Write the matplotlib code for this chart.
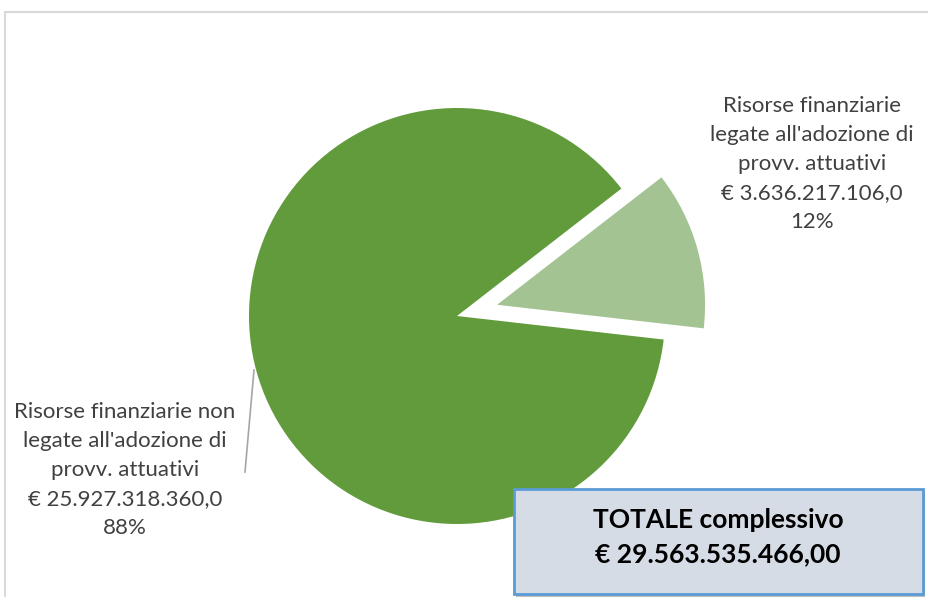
import matplotlib.pyplot as plt
from matplotlib.patches import Rectangle

plt.rcParams['font.family'] = ['Lato', 'DejaVu Sans']

categories = ["Risorse finanziarie\nlegate all'adozione di\nprovv. attuativi",
              "Risorse finanziarie non\nlegate all'adozione di\nprovv. attuativi"]
values = [3636217106.0, 25927318360.0]
colors = ['#A3C492', '#629B3C']
total_label = "TOTALE complessivo"


def euro(v, dec=1):
    s = f"{v:,.{dec}f}"
    return "€ " + s.replace(",", "X").replace(".", ",").replace("X", ".")


W, H = 929, 597
fig = plt.figure(figsize=(W / 100, H / 100), dpi=100)

# outer chart frame (cut at right/bottom like the screenshot)
fig.patches.append(Rectangle((5 / W, -0.1), 1.2, 1.1 - 12 / H, transform=fig.transFigure,
                             fill=False, edgecolor='#D9D9D9', linewidth=1.5))

# pie axes: radius 1 == 208 px, centre at (457, 316) px
R, cx, cy = 208, 457, 316
ax = fig.add_axes([0, 0, 1, 1])
ax.pie(values, colors=colors, explode=[0.2, 0], startangle=-6.5,
       counterclock=True, wedgeprops=dict(linewidth=0))
ax.set_xlim(-cx / R, (W - cx) / R)
ax.set_ylim(-(H - cy) / R, cy / R)
ax.set_aspect('equal')
ax.axis('off')

total = sum(values)
labels = [f"{c}\n{euro(v)}\n{round(v / total * 100)}%" for c, v in zip(categories, values)]


def px(x, y):
    return ((x - cx) / R, (cy - y) / R)


txt = dict(ha='center', va='center', multialignment='center', fontsize=16,
           color='#404040', linespacing=1.56)
ax.text(*px(812, 164), labels[0], **txt)
ax.text(*px(125, 470), labels[1], **txt)
ax.plot(*zip(px(254, 370), px(245, 472)), color='#A6A6A6', linewidth=1.2)

# total box
bx0, by0, bx1, by1 = 514, 489, 923, 594
ax.add_patch(Rectangle(px(bx0 + 2, by1 + 3), (bx1 - bx0) / R, (by1 - by0) / R,
                       facecolor='#BFBFBF', edgecolor='none', zorder=3))
ax.add_patch(Rectangle(px(bx0, by1), (bx1 - bx0) / R, (by1 - by0) / R,
                       facecolor='#D6DCE5', edgecolor='#5B9BD5', linewidth=2, zorder=4))
ax.text(*px(718, 537), f"{total_label}\n{euro(total, 2)}", ha='center', va='center',
        multialignment='center', fontsize=19, fontweight='bold', color='black',
        linespacing=1.55, zorder=5)

fig.savefig('out.png', dpi=100)
